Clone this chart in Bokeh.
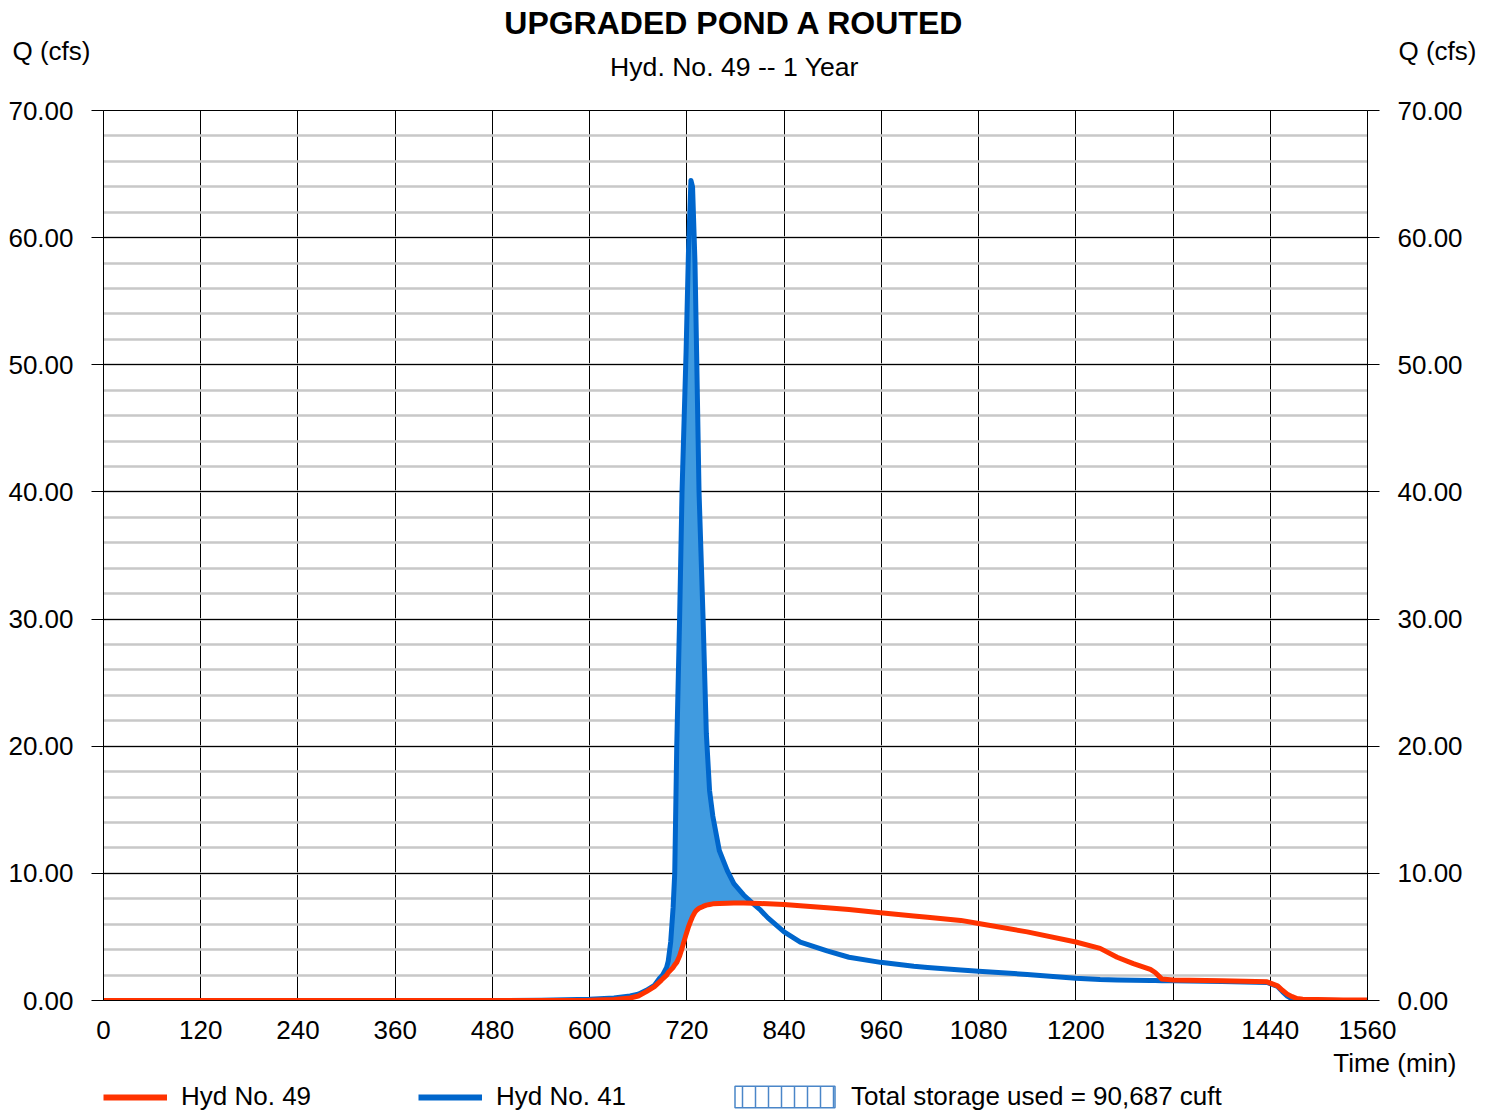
from bokeh.plotting import figure
from bokeh.layouts import column
from bokeh.models import (LinearAxis, SingleIntervalTicker, FixedTicker, NumeralTickFormatter,
                          Legend, LegendItem, Range1d, Title)
from bokeh.core.properties import value
from bokeh.embed import file_html
from bokeh.resources import INLINE
import numpy as np

# ---------------- data ----------------
time_min = [0, 480, 540, 600, 630, 650, 660, 670, 680, 687, 690, 695, 697, 700, 703,
            705, 707.5, 711, 714, 719, 722, 725, 727, 730, 732, 735, 740, 744, 748,
            752, 760, 770, 778, 790, 802, 811, 820, 840, 860, 893, 920, 959, 1000,
            1017, 1058, 1080, 1140, 1200, 1230, 1251, 1271, 1292, 1298, 1306, 1320,
            1380, 1436, 1449, 1455, 1461, 1467, 1473, 1480, 1498, 1530, 1560]

hyd41_cfs = [0, 0, 0.02, 0.1, 0.2, 0.35, 0.5, 0.8, 1.2, 1.8, 2.0, 2.6, 3.1, 4.6, 7.3,
             10.0, 20.0, 30.0, 40.0, 51.0, 59.0, 64.5, 64.0, 58.0, 51.0, 40.0, 30.0,
             21.0, 16.5, 14.5, 11.8, 10.2, 9.2, 8.3, 7.6, 7.1, 6.5, 5.4, 4.6, 3.9,
             3.4, 3.0, 2.7, 2.6, 2.4, 2.3, 2.05, 1.75, 1.65, 1.62, 1.6, 1.58, 1.57,
             1.56, 1.55, 1.5, 1.42, 1.1, 0.7, 0.35, 0.12, 0.04, 0.02, 0.01, 0.0, 0.0]

hyd49_cfs = [0, 0, 0, 0.02, 0.08, 0.2, 0.35, 0.7, 1.1, 1.5, 1.7, 2.0, 2.2, 2.4, 2.6,
             2.8, 3.0, 3.5, 4.1, 5.2, 5.8, 6.3, 6.6, 6.95, 7.1, 7.25, 7.4, 7.5, 7.55,
             7.6, 7.62, 7.65, 7.66, 7.66, 7.65, 7.63, 7.6, 7.55, 7.45, 7.3, 7.15,
             6.9, 6.65, 6.55, 6.3, 6.05, 5.4, 4.6, 4.1, 3.4, 2.9, 2.45, 2.2, 1.7,
             1.62, 1.55, 1.47, 1.15, 0.8, 0.5, 0.3, 0.15, 0.1, 0.07, 0.04, 0.03]

x_max_min = 1560
x_tick_step = 120
y_max_cfs = 70
y_tick_step = 10
y_minor_count = 5

title_text = "UPGRADED POND A ROUTED"
subtitle_text = "Hyd. No. 49 -- 1 Year"
y_title = "Q (cfs)"
x_title = "Time (min)"
legend_labels = ["Hyd No. 49", "Hyd No. 41", "Total storage used = 90,687 cuft"]

# ---------------- styling ----------------
FONT = "Liberation Sans"
FS = "26px"
RED = "#ff3300"
BLUE = "#0066cc"
FILL = "#409be0"
HATCH = "#4a86c8"
LW = 5

W, H = 1496, 1112
HEAD_H = 96             # header strip: title, subtitle, axis titles
FOOT_H = 30             # footer strip: legend
MAIN_H = H - HEAD_H - FOOT_H
FL, FR = 103, 1367      # plot frame left / right edge (pixels)
FT, FB = 110, 1000      # plot frame top / bottom edge (pixels)


def strip(height, y_top, pad_top=0):
    # frames of all figures in the column are aligned to FL..FR,
    # so the ranges below map one unit to one pixel of the page
    f = figure(width=W, height=height, title=None,
               x_range=Range1d(FL, FR), y_range=Range1d(y_top + height, y_top + pad_top),
               output_backend="svg", toolbar_location=None,
               min_border_left=FL, min_border_right=W - FR,
               min_border_top=pad_top, min_border_bottom=0,
               outline_line_color=None, background_fill_color="white",
               border_fill_color="white", x_axis_type=None, y_axis_type=None)
    f.grid.visible = False
    return f


def txt(f, text, x, y, align, size, style="normal"):
    f.text(x=[x], y=[y], text=[text], text_align=align, text_baseline="middle",
           text_font=value(FONT), text_font_size=size, text_font_style=style,
           text_color="black")


def label_axis(standoff):
    a = LinearAxis(ticker=FixedTicker(ticks=[]), axis_label=y_title,
                   axis_label_orientation="horizontal", axis_label_standoff=standoff,
                   axis_label_text_font=FONT, axis_label_text_font_size=FS,
                   axis_label_text_font_style="normal", axis_label_text_color="black",
                   axis_line_color=None, major_tick_line_color=None,
                   minor_tick_line_color=None, major_tick_out=0, major_tick_in=0,
                   major_label_standoff=0)
    return a


# ---------------- header ----------------
head = strip(HEAD_H, 0, pad_top=4)
txt(head, title_text, 734, 22, "center", "32px", "bold")
txt(head, subtitle_text, 734, 66, "center", "26.6px")
head.add_layout(label_axis(13), "left")
head.add_layout(label_axis(31), "right")

# ---------------- main chart ----------------
p = figure(width=W, height=MAIN_H, title=None,
           x_range=Range1d(0, x_max_min), y_range=Range1d(0, y_max_cfs),
           output_backend="svg", toolbar_location=None,
           min_border_left=FL, min_border_right=W - FR,
           min_border_top=FT - HEAD_H, min_border_bottom=(H - FOOT_H) - FB,
           background_fill_color="white", border_fill_color="white",
           outline_line_color="black", outline_line_width=1)

xt = SingleIntervalTicker(interval=x_tick_step, num_minor_ticks=0)
yt = SingleIntervalTicker(interval=y_tick_step, num_minor_ticks=y_minor_count)

xa = p.xaxis[0]
xa.ticker = xt
xa.formatter = NumeralTickFormatter(format="0")
xa.major_tick_out = 0
xa.major_tick_in = 0
xa.minor_tick_line_color = None
xa.axis_line_color = "black"
xa.major_label_text_font = FONT
xa.major_label_text_font_size = FS
xa.major_label_text_color = "black"
xa.major_label_standoff = 20


def style_y(ax):
    ax.ticker = yt
    ax.formatter = NumeralTickFormatter(format="0.00")
    ax.major_tick_out = 12
    ax.major_tick_in = 0
    ax.major_tick_line_color = "black"
    ax.minor_tick_line_color = None
    ax.axis_line_color = "black"
    ax.major_label_text_font = FONT
    ax.major_label_text_font_size = FS
    ax.major_label_text_color = "black"
    ax.major_label_standoff = 18


style_y(p.yaxis[0])
ra = LinearAxis()
style_y(ra)
p.add_layout(ra, "right")

p.add_layout(Title(text=x_title, align="right", offset=-89, standoff=8,
                   text_font=FONT, text_font_size=FS, text_font_style="normal",
                   text_color="black"), "below")

p.xgrid.grid_line_color = "black"
p.xgrid.grid_line_width = 1
p.xgrid.grid_line_alpha = 1
p.ygrid.grid_line_color = "black"
p.ygrid.grid_line_width = 1
p.ygrid.grid_line_alpha = 1
p.ygrid.minor_grid_line_color = "#c8c8c8"
p.ygrid.minor_grid_line_width = 2.5

t = np.array(time_min, dtype=float)
q41 = np.array(hyd41_cfs, dtype=float)
q49 = np.array(hyd49_cfs, dtype=float)

p.varea(x=t, y1=q49, y2=np.maximum(q41, q49), fill_color=FILL, fill_alpha=1)
p.line(t, q41, line_color=BLUE, line_width=LW, line_join="round", line_cap="round")
p.line(t, q49, line_color=RED, line_width=LW, line_join="round", line_cap="round")

# ---------------- footer (legend) ----------------
foot = strip(FOOT_H, H - FOOT_H)
nan = [float("nan")]
k49 = foot.line(x=nan, y=nan, line_color=RED, line_width=6)
k41 = foot.line(x=nan, y=nan, line_color=BLUE, line_width=6)
kst = foot.quad(left=nan, right=nan, bottom=nan, top=nan, fill_color="white",
                line_color=HATCH, line_width=1.5,
                hatch_pattern="|", hatch_color=HATCH, hatch_scale=13, hatch_weight=1.5)

common = dict(orientation="horizontal", spacing=0, padding=0, margin=0,
              border_line_color=None, background_fill_alpha=0,
              label_text_font=FONT, label_text_font_size=FS,
              label_text_color="black")
leg_a = Legend(items=[LegendItem(label=legend_labels[0], renderers=[k49]),
                      LegendItem(label=legend_labels[1], renderers=[k41])],
               location=(0, 0), glyph_width=64, glyph_height=22, label_standoff=14,
               label_width=237, **common)
# area glyphs are drawn inset by 10% of the glyph box, hence the larger box
leg_b = Legend(items=[LegendItem(label=legend_labels[2], renderers=[kst])],
               location=(619, 0), glyph_width=125, glyph_height=27, label_standoff=4,
               **common)
foot.add_layout(leg_a, "center")
foot.add_layout(leg_b, "center")

layout = column(head, p, foot, spacing=0)
open("out.html", "w").write(file_html(layout, INLINE))
